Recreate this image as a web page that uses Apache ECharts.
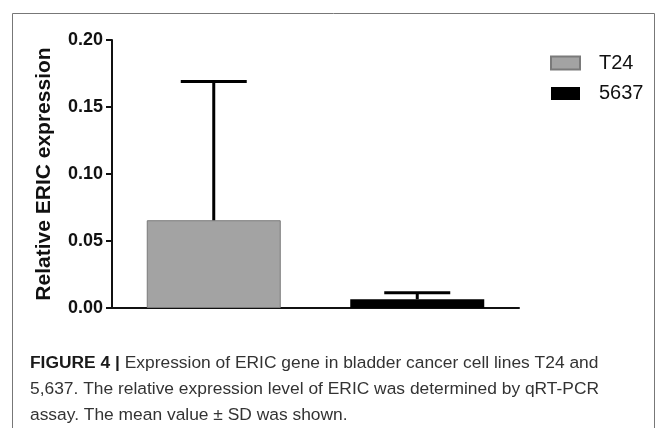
<!DOCTYPE html>
<html><head><meta charset="utf-8">
<script src="https://cdn.jsdelivr.net/npm/echarts@6/dist/echarts.min.js"></script>
<style>html,body{margin:0;padding:0;background:#fff}#c{width:666px;height:428px}</style>
</head><body><div id="c"></div>
<script>
var categories = ['T24', '5637'];
var means = [0.0655, 0.0065];
var sdTop = [0.169, 0.0113];
var yTicks = [0, 0.05, 0.10, 0.15, 0.20];
var captionLines = [
  ['FIGURE 4 | ', 'Expression of ERIC gene in bladder cancer cell lines T24 and'],
  ['', '5,637. The relative expression level of ERIC was determined by qRT-PCR'],
  ['', 'assay. The mean value \u00b1 SD was shown.']
];

var chart = echarts.init(document.getElementById('c'), null, {renderer: 'canvas'});
var font = 'Liberation Sans, Arial, sans-serif';

var captionGraphics = [];
captionLines.forEach(function (ln, i) {
  captionGraphics.push({
    type: 'text', left: 30, top: 355 + i * 26,
    style: {
      text: (ln[0] ? '{b|' + ln[0] + '}' : '') + '{n|' + ln[1] + '}',
      rich: {
        b: {fontFamily: font, fontWeight: 'bold', fontSize: 17.4, fill: '#1a1a1a'},
        n: {fontFamily: font, fontSize: 17.4, fill: '#333'}
      }
    }
  });
});

chart.setOption({
  animation: false,
  backgroundColor: '#fff',
  grid: {left: 112, right: 147, top: 40, bottom: 120},
  legend: {
    left: 545, top: 48, orient: 'vertical', itemWidth: 29, itemHeight: 13, itemGap: 10.5,
    icon: 'rect',
    textStyle: {fontFamily: font, fontSize: 20, color: '#111', padding: [0, 0, 0, 14]},
    data: categories
  },
  xAxis: {
    type: 'category', data: categories,
    axisLine: {lineStyle: {color: '#111', width: 2}},
    axisTick: {alignWithLabel: true, length: 9, lineStyle: {width: 2, color: '#111'}},
    axisLabel: {show: false}
  },
  yAxis: {
    type: 'value', min: yTicks[0], max: yTicks[yTicks.length - 1], interval: 0.05,
    name: 'Relative ERIC expression', nameLocation: 'middle', nameGap: 57,
    nameTextStyle: {fontFamily: font, fontWeight: 'bold', fontSize: 21, color: '#111'},
    axisLine: {show: true, lineStyle: {color: '#111', width: 2}},
    axisTick: {show: true, length: 6, lineStyle: {width: 2, color: '#111'}},
    axisLabel: {fontFamily: font, fontWeight: 'bold', fontSize: 18, color: '#111', margin: 9,
      formatter: function (v) { return v.toFixed(2); }},
    splitLine: {show: false}
  },
  series: [
    {
      name: categories[0], type: 'bar', barWidth: 134, barGap: '-100%',
      data: [means[0], '-'],
      itemStyle: {color: '#a3a3a3', borderColor: '#7a7a7a', borderWidth: 1}
    },
    {
      name: categories[1], type: 'bar', barWidth: 134, barGap: '-100%',
      data: ['-', means[1]],
      itemStyle: {color: '#000'}
    },
    {
      type: 'custom', name: 'sd', z: 5,
      data: categories.map(function (c, i) { return [i, means[i], sdTop[i]]; }),
      renderItem: function (params, api) {
        var x = api.value(0);
        var p0 = api.coord([x, api.value(1)]);
        var p1 = api.coord([x, api.value(2)]);
        var hw = 33;
        return {
          type: 'group',
          children: [
            {type: 'line', shape: {x1: p0[0], y1: p0[1], x2: p1[0], y2: p1[1]},
             style: {stroke: '#000', lineWidth: 3}},
            {type: 'line', shape: {x1: p1[0] - hw, y1: p1[1], x2: p1[0] + hw, y2: p1[1]},
             style: {stroke: '#000', lineWidth: 3}}
          ]
        };
      }
    }
  ],
  graphic: [
    {type: 'polyline', shape: {points: [[12.5, 428], [12.5, 13.5], [654.5, 13.5], [654.5, 428]]},
     style: {stroke: '#777', lineWidth: 1, fill: null}}
  ].concat(captionGraphics)
});
</script></body></html>
